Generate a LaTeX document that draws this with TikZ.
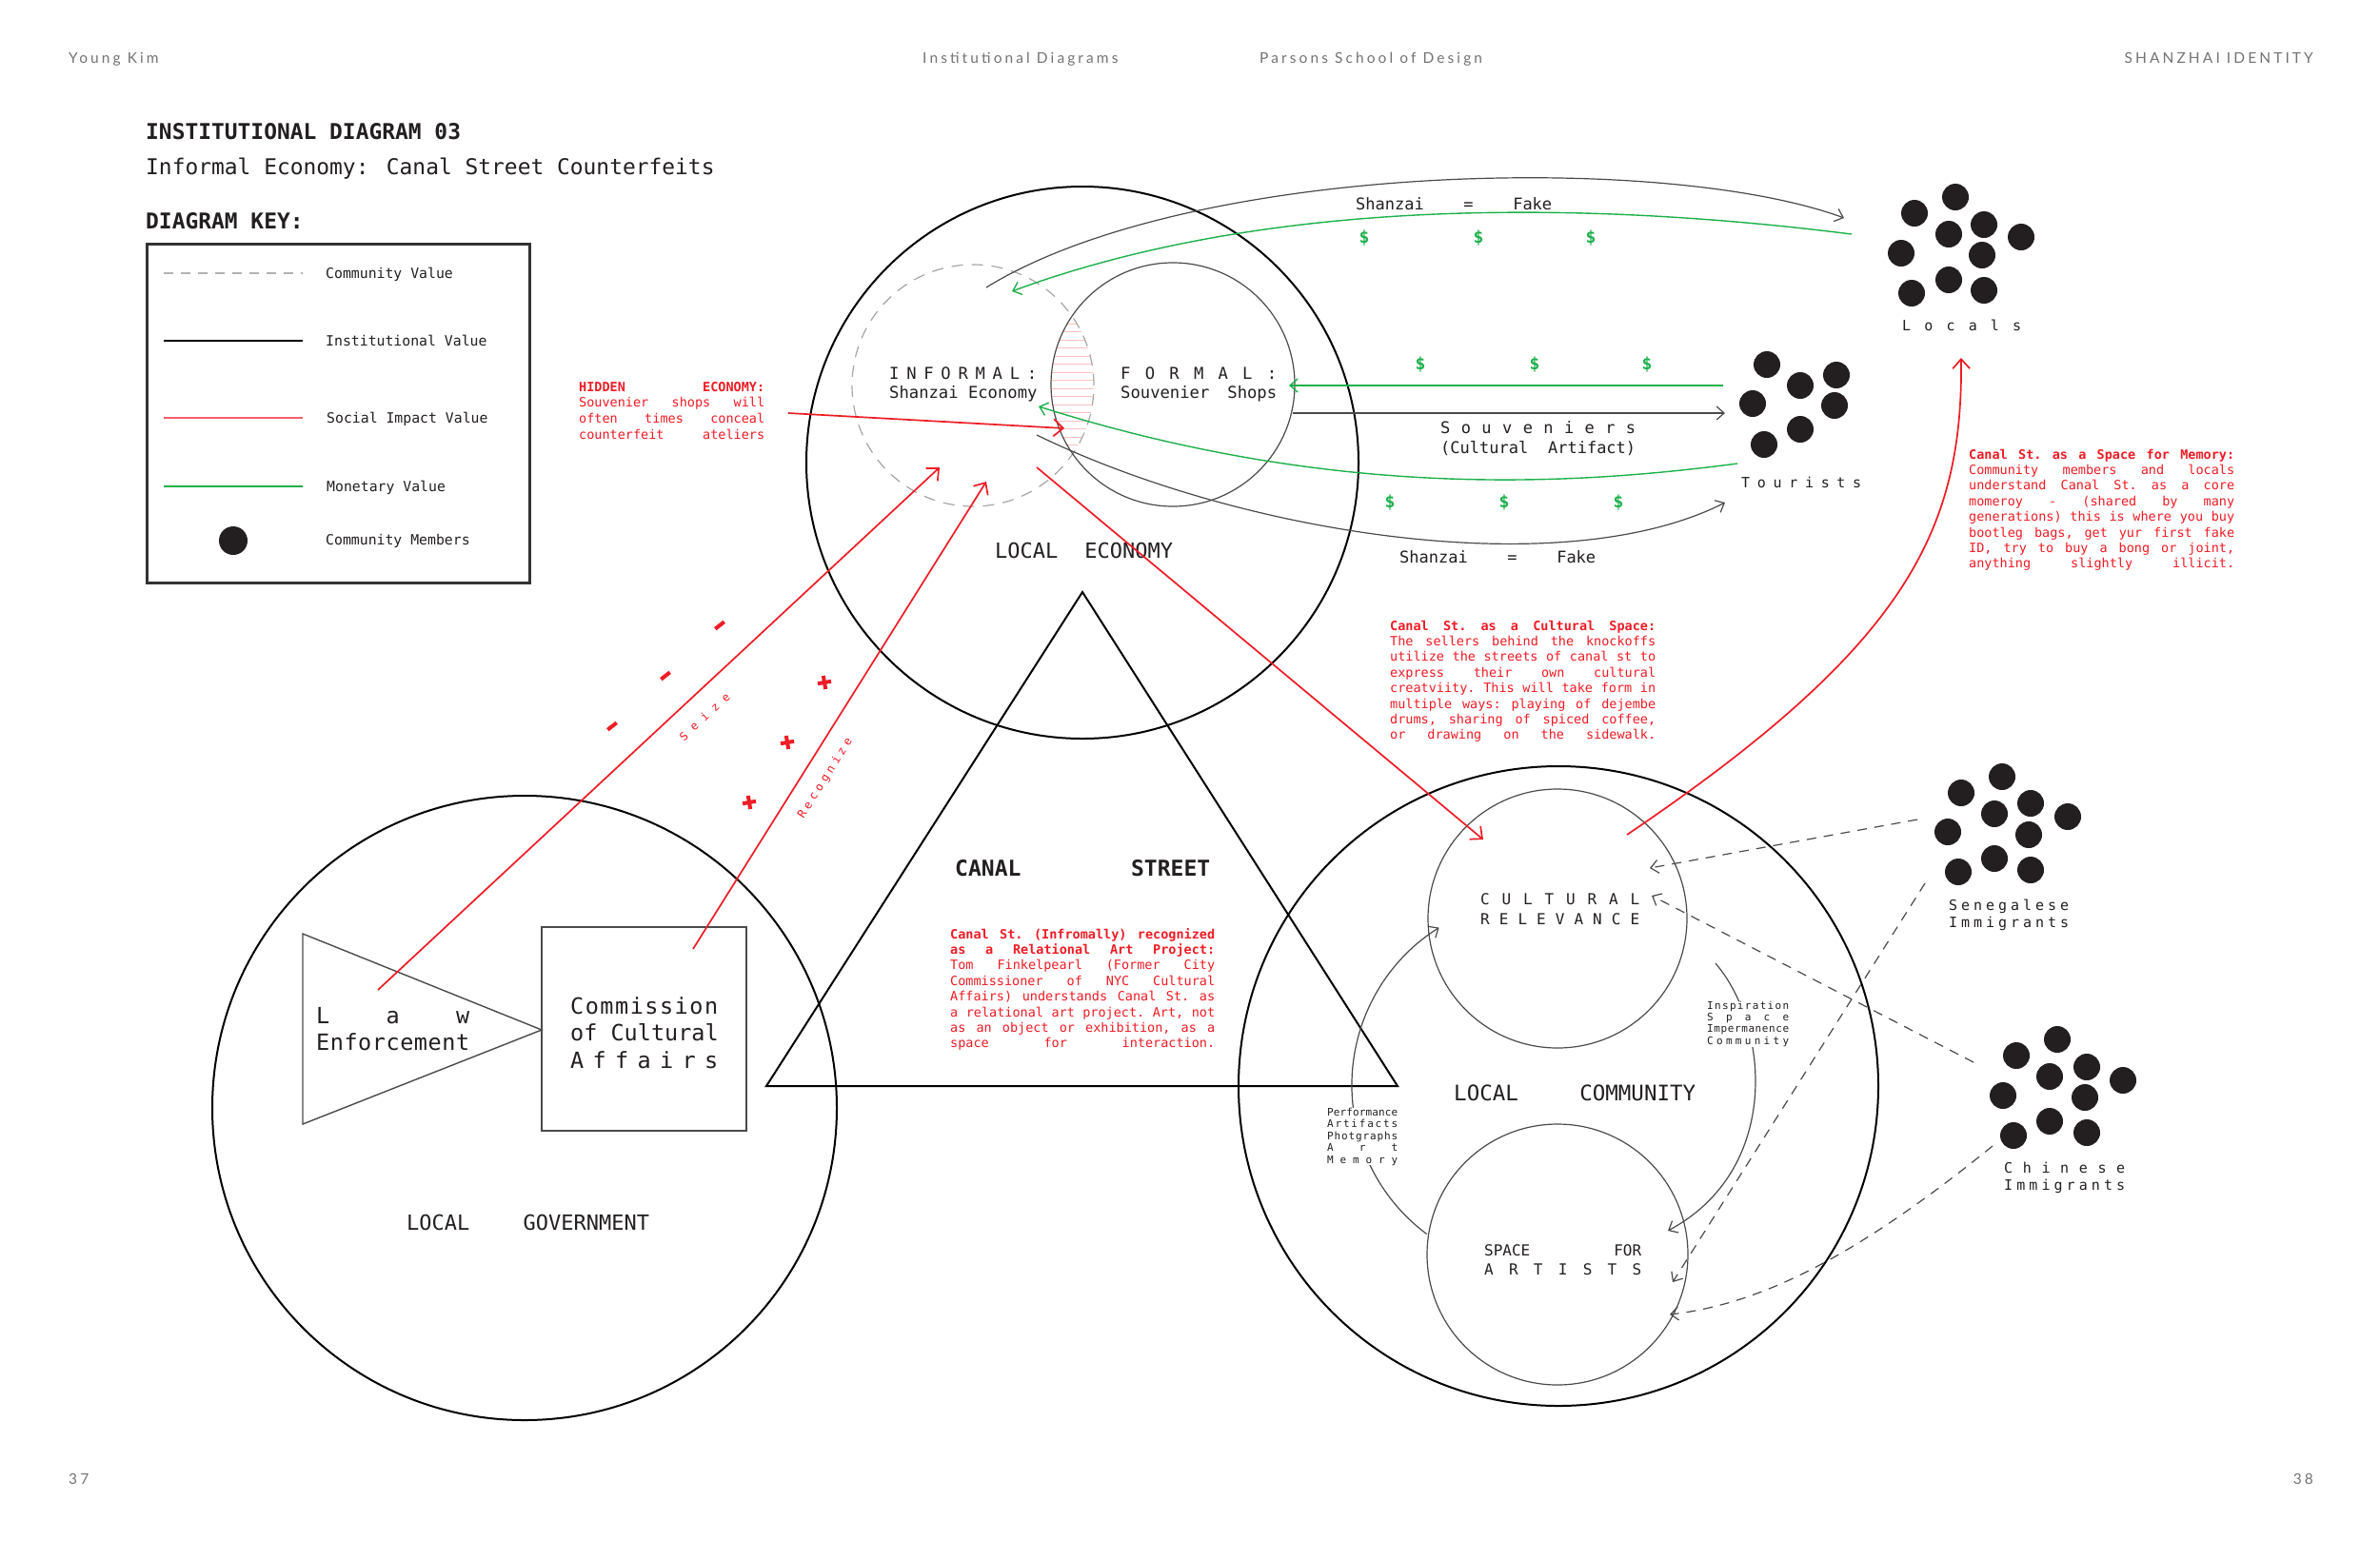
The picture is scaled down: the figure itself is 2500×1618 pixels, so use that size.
\documentclass[tikz,border=0pt]{standalone}
\usepackage{fontspec}
\setmainfont{DejaVu Sans Mono}
\newfontfamily\hdr[LetterSpace=20]{Lato}
\usetikzlibrary{arrows.meta}
\definecolor{rd}{HTML}{EE1C25}
\definecolor{gn}{HTML}{1DB04B}
\definecolor{gr}{HTML}{4A4A4A}
\definecolor{dk}{HTML}{231F20}
\newlength\jw
\newcommand\JL[1]{\hbox to\jw{\frenchspacing\spaceskip=.6em plus 1fil\relax #1}}
\newcommand\JW[2]{\hbox to #1{\frenchspacing\spaceskip=.6em plus 1fil\relax #2}}
\newcommand\PAR[3]{\vtop{\setlength\jw{#1}\baselineskip=#2\relax #3}}
\ExplSyntaxOn
\NewDocumentCommand\SP{mm}{\hbox to #1{\tl_map_inline:nn{#2}{##1\hfil}\unskip}}
\ExplSyntaxOff
\newcommand\fs[1]{\fontsize{#1pt}{#1pt}\selectfont}
\tikzset{
  lab/.style={inner sep=0, anchor=base west, text=dk},
  hd/.style={inner sep=0, anchor=base west, text=black!55, font=\hdr\fontsize{15.5pt}{16pt}\selectfont},
  bigc/.style={circle, draw=black, line width=2pt, inner sep=0},
  thinc/.style={circle, draw=gr, line width=1.2pt, inner sep=0},
  dot/.style={circle, fill=dk, minimum size=28pt, inner sep=0},
  redarr/.style={draw=rd, line width=1.7pt, -{Straight Barb[length=10pt,width=18pt,line width=1.7pt]}},
  grayarr/.style={draw=gr, line width=1.2pt, -{Straight Barb[length=8pt,width=14pt,line width=1.2pt]}},
  greenarr/.style={draw=gn, line width=1.4pt, -{Straight Barb[length=8pt,width=14pt,line width=1.4pt]}},
  dasharr/.style={draw=gr, line width=1.2pt, dash pattern=on 10pt off 8pt, -{Straight Barb[length=8pt,width=14pt,line width=1.2pt]}},
  dollar/.style={inner sep=0, text=gn, font=\fs{18}\bfseries},
  redtxt/.style={inner sep=0, anchor=base west, text=rd, font=\fs{13.5}},
  rmark/.style={draw=rd, line width=4pt},
}
\begin{document}
\begin{tikzpicture}[x=1pt,y=-1pt]
\useasboundingbox (0,0) rectangle (2500,1618);
\fill[white] (0,0) rectangle (2500,1618);

% header
\node[hd] (h1) at (72,66) {Young Kim};
\node[hd] (h2) at (969,66) {Institutional Diagrams};
\node[hd] (h3) at (1323,66) {Parsons School of Design};
\node[hd, anchor=base east] (h4) at (2430,66) {SHANZHAI IDENTITY};
\node[hd] (p1) at (72,1559) {37};
\node[hd, anchor=base east] (p2) at (2430,1559) {38};

% titles
\node[lab, font=\fs{22.9}\bfseries] (title) at (153,146) {INSTITUTIONAL DIAGRAM 03};
\node[lab, font=\fs{22.9}] (sub) at (153,183) {Informal Economy: Canal Street Counterfeits};
\node[lab, font=\fs{22.9}\bfseries] (keyt) at (153,240) {DIAGRAM KEY:};

% key
\node[draw=black!80, line width=2.5pt, minimum width=402pt, minimum height=356pt, anchor=north west, inner sep=0] (key) at (153,255) {};
\coordinate (k1a) at (172,287); \coordinate (k1b) at (318,287);
\coordinate (k2a) at (172,358); \coordinate (k2b) at (318,358);
\coordinate (k3a) at (172,439); \coordinate (k3b) at (318,439);
\coordinate (k4a) at (172,511); \coordinate (k4b) at (318,511);
\draw[black!30, line width=1.2pt, dash pattern=on 10pt off 8pt] (k1a) -- (k1b);
\draw[black, line width=1.3pt] (k2a) -- (k2b);
\draw[rd!70, line width=1.3pt] (k3a) -- (k3b);
\draw[gn, line width=1.3pt] (k4a) -- (k4b);
\node[dot, minimum size=30pt] (kdot) at (245,568) {};
\node[lab, font=\fs{14.8}] (kl1) at (342,292) {Community Value};
\node[lab, font=\fs{14.8}] (kl2) at (342,363) {Institutional Value};
\node[lab, font=\fs{14.8}] (kl3) at (343,444) {Social Impact Value};
\node[lab, font=\fs{14.8}] (kl4) at (343,516) {Monetary Value};
\node[lab, font=\fs{14.8}] (kl5) at (342,572) {Community Members};

% big circles
\node[bigc, minimum size=580pt] (econ) at (1137,486) {};
\node[bigc, minimum size=656pt] (gov) at (551,1164) {};
\node[bigc, minimum size=672pt] (comm) at (1637,1141) {};
\coordinate (tA) at (1137,622); \coordinate (tL) at (805,1141); \coordinate (tR) at (1468,1141);
\draw[line width=2pt, line join=miter] (tA) -- (tL) -- (tR) -- cycle;

% economy inner
\begin{scope}
\clip (1022,405) circle[radius=127pt];
\clip (1232,404) circle[radius=128pt];
\foreach \yy in {272,280.5,...,540} \draw[rd!28, line width=1pt] (1090,\yy) -- (1160,\yy);
\end{scope}
\node[circle, draw=black!35, line width=1.2pt, dash pattern=on 12pt off 9pt, minimum size=254pt, inner sep=0] (informal) at (1022,405) {};
\node[thinc, minimum size=256pt] (formal) at (1232,404) {};
\node[lab, font=\fs{17.2}] (inf1) at (934,398) {\SP{155pt}{INFORMAL:}};
\node[lab, font=\fs{17.2}] (inf2) at (934,418) {\JW{155pt}{Shanzai Economy}};
\node[lab, font=\fs{17.2}] (for1) at (1177,398) {\SP{164pt}{FORMAL:}};
\node[lab, font=\fs{17.2}] (for2) at (1177,418) {\JW{164pt}{Souvenier Shops}};
\node[lab, font=\fs{22}] (leco) at (1045,586) {\JW{187pt}{LOCAL ECONOMY}};

% locals group
\foreach \n/\dx/\dy in {1/-43/17,2/0/0,3/30/29,4/-7/39,5/69/42,6/-57/59,7/28/61,8/-7/87,9/-46/101,10/30/98}
  \node[dot] (loc\n) at (2054+\dx,207+\dy) {};
\node[lab, font=\fs{15}] (loclab) at (1998,347) {\SP{125pt}{Locals}};
% tourists
\node[dot] (tou1) at (1856,383) {};
\node[dot] (tou2) at (1929,394) {};
\node[dot] (tou3) at (1891,405) {};
\node[dot] (tou4) at (1841,424) {};
\node[dot] (tou5) at (1927,426) {};
\node[dot] (tou6) at (1891,451) {};
\node[dot] (tou7) at (1853,467) {};
\node[lab, font=\fs{15}] (toulab) at (1829,512) {\SP{126pt}{Tourists}};
% senegalese
\foreach \n/\dx/\dy in {1/-43/17,2/0/0,3/30/28,4/-8/39,5/69/42,6/-57/58,7/28/61,8/-8/86,9/-46/100,10/30/98}
  \node[dot] (sen\n) at (2103+\dx,816+\dy) {};
\node[lab, font=\fs{15}] (senlab1) at (2047,956) {\SP{126pt}{Senegalese}};
\node[lab, font=\fs{15}] (senlab2) at (2047,974) {\SP{126pt}{Immigrants}};
% chinese
\foreach \n/\dx/\dy in {1/-43/17,2/0/0,3/31/29,4/-8/39,5/69/43,6/-57/59,7/29/61,8/-8/86,9/-46/101,10/31/98}
  \node[dot] (chi\n) at (2161+\dx,1092+\dy) {};
\node[lab, font=\fs{15}] (chilab1) at (2105,1232) {\SP{127pt}{Chinese}};
\node[lab, font=\fs{15}] (chilab2) at (2105,1250) {\SP{127pt}{Immigrants}};

% economy flows
\coordinate (a1s) at (1036,302); \coordinate (a1e) at (1937,229);
\draw[grayarr] (a1s) .. controls (1250,170) and (1750,160) .. (a1e);
\node[lab, font=\fs{17}] (sf1) at (1424,220) {\JW{206pt}{Shanzai = Fake}};
\coordinate (g1s) at (1945,246); \coordinate (g1e) at (1063,306);
\draw[greenarr] (g1s) .. controls (1700,215) and (1350,200) .. (g1e);
\node[dollar] (d1) at (1433,250) {\$};
\node[dollar] (d2) at (1553,250) {\$};
\node[dollar] (d3) at (1671,250) {\$};
\coordinate (g2s) at (1810,405); \coordinate (g2e) at (1354,405);
\draw[greenarr] (g2s) -- (g2e);
\node[dollar] (d4) at (1492,383) {\$};
\node[dollar] (d5) at (1612,383) {\$};
\node[dollar] (d6) at (1730,383) {\$};
\coordinate (s1s) at (1358,434); \coordinate (s1e) at (1812,434);
\draw[grayarr] (s1s) -- (s1e);
\node[lab, font=\fs{17}] (souv1) at (1513,455) {\SP{205pt}{Souveniers}};
\node[lab, font=\fs{17}] (souv2) at (1513,476) {\JW{205pt}{(Cultural Artifact)}};
\coordinate (g3s) at (1825,487); \coordinate (g3e) at (1091,427);
\draw[greenarr] (g3s) .. controls (1650,510) and (1400,525) .. (g3e);
\node[dollar] (d7) at (1460,528) {\$};
\node[dollar] (d8) at (1580,528) {\$};
\node[dollar] (d9) at (1700,528) {\$};
\coordinate (a2s) at (1089,457); \coordinate (a2e) at (1812,528);
\draw[grayarr] (a2s) .. controls (1300,560) and (1640,615) .. (a2e);
\node[lab, font=\fs{17}] (sf2) at (1470,591) {\JW{206pt}{Shanzai = Fake}};

% hidden economy
\node[redtxt] (hid) at (608,411) {\PAR{195pt}{16.7pt}{\JL{\bfseries HIDDEN ECONOMY:}\JL{Souvenier shops will}\JL{often times conceal}\JL{counterfeit ateliers}}};
\coordinate (hidS) at (828,434); \coordinate (hidE) at (1118,450);
\draw[redarr] (hidS) -- (hidE);

% government
\coordinate (lw1) at (318,981); \coordinate (lw2) at (318,1181); \coordinate (lw3) at (569,1082);
\draw[gr, line width=1.4pt] (lw1) -- (lw3) -- (lw2) -- cycle;
\node[draw=gr, line width=1.4pt, minimum width=215pt, minimum height=214pt, inner sep=0] (cca) at (676.5,1081) {};
\node[lab, font=\fs{23.5}] (law1) at (332,1075) {\SP{161pt}{Law}};
\node[lab, font=\fs{23.5}] (law2) at (332,1103) {\SP{161pt}{Enforcement}};
\node[lab, font=\fs{23.5}] (cca1) at (599,1065) {\SP{155pt}{Commission}};
\node[lab, font=\fs{23.5}] (cca2) at (599,1093) {\JW{155pt}{of Cultural}};
\node[lab, font=\fs{23.5}] (cca3) at (599,1122) {\SP{155pt}{Affairs}};
\node[lab, font=\fs{22}] (lgov) at (427,1292) {\JW{255pt}{LOCAL GOVERNMENT}};

% seize / recognize
\coordinate (lawP) at (397,1040); \coordinate (seizeE) at (987,491);
\draw[redarr] (lawP) -- (seizeE);
\coordinate (comP) at (728,997); \coordinate (recE) at (1036,506);
\draw[redarr] (comP) -- (recE);
\node[inner sep=0, text=rd, font=\fs{12}, rotate=43] (seize) at (740,753) {\SP{67pt}{Seize}};
\node[inner sep=0, text=rd, font=\fs{12}, rotate=58] (recog) at (867,818) {\SP{97pt}{Recognize}};
\foreach \cx/\cy in {756/657,699/710,643/763} \draw[rmark] (\cx-4.7,\cy+3.7) -- (\cx+4.7,\cy-3.7);
\foreach \cx/\cy in {866/717,827/780,787/843} {\draw[rmark] (\cx-7,\cy+1.2) -- (\cx+7,\cy-1.2); \draw[rmark] (\cx-1.2,\cy-7) -- (\cx+1.2,\cy+7);}

% canal street
\node[lab, font=\fs{23}\bfseries] (canal) at (1003,920) {\JW{268pt}{CANAL STREET}};
\node[redtxt] (relart) at (998,986) {\PAR{278pt}{16.4pt}{\JL{\bfseries Canal St. (Infromally) recognized}\JL{\bfseries as a Relational Art Project:}\JL{Tom Finkelpearl (Former City}\JL{Commissioner of NYC Cultural}\JL{Affairs) understands Canal St. as}\JL{a relational art project. Art, not}\JL{as an object or exhibition, as a}\JL{space for interaction.}}};

% cultural space text
\node[redtxt] (culsp) at (1460,662) {\PAR{279pt}{16.4pt}{\JL{\bfseries Canal St. as a Cultural Space:}\JL{The sellers behind the knockoffs}\JL{utilize the streets of canal st to}\JL{express their own cultural}\JL{creatviity. This will take form in}\JL{multiple ways: playing of dejembe}\JL{drums, sharing of spiced coffee,}\JL{or drawing on the sidewalk.}}};

% memory text
\node[redtxt] (mem) at (2068,482) {\PAR{279pt}{16.4pt}{\JL{\bfseries Canal St. as a Space for Memory:}\JL{Community members and locals}\JL{understand Canal St. as a core}\JL{momeroy - (shared by many}\JL{generations) this is where you buy}\JL{bootleg bags, get yur first fake}\JL{ID, try to buy a bong or joint,}\JL{anything slightly illicit.}}};

% community
\node[thinc, minimum size=272pt] (cult) at (1636,965) {};
\node[thinc, minimum size=274pt] (art) at (1636,1318) {};
\node[lab, font=\fs{16}] (cul1) at (1555,950) {\SP{167pt}{CULTURAL}};
\node[lab, font=\fs{16}] (cul2) at (1555,971) {\SP{167pt}{RELEVANCE}};
\node[lab, font=\fs{16}] (art1) at (1559,1319) {\JW{165pt}{SPACE FOR}};
\node[lab, font=\fs{16}] (art2) at (1559,1339) {\SP{165pt}{ARTISTS}};
\node[lab, font=\fs{22.5}] (lcom) at (1527,1156) {\JW{254pt}{LOCAL COMMUNITY}};

\coordinate (ec1) at (1089,491); \coordinate (ec2) at (1558,882);
\draw[redarr] (ec1) -- (ec2);
\coordinate (cm1) at (1709,877); \coordinate (cm2) at (2060,376);
\draw[redarr] (cm1) .. controls (2000,680) and (2062,560) .. (cm2);

\coordinate (la1) at (1498.7,1296.5);
\draw[grayarr] (la1) arc[start angle=126.6, end angle=238, radius=195];
\node[lab, font=\fs{11}, fill=white] (perf) at (1394,1172) {\vtop{\baselineskip=12.5pt \SP{74pt}{Performance}\SP{74pt}{Artifacts}\SP{74pt}{Photgraphs}\SP{74pt}{Art}\SP{74pt}{Memory}}};
\coordinate (ra1) at (1802,1012); \coordinate (ra2) at (1752,1293);
\draw[grayarr] (ra1) .. controls (1860,1080) and (1870,1230) .. (ra2);
\node[lab, font=\fs{11}, fill=white] (insp) at (1793,1060) {\vtop{\baselineskip=12.4pt \SP{86pt}{Inspiration}\SP{86pt}{Space}\SP{86pt}{Impermanence}\SP{86pt}{Community}}};

% community value dashed
\coordinate (q1s) at (2014,861); \coordinate (q1e) at (1733,912);
\draw[dasharr] (q1s) -- (q1e);
\coordinate (q2s) at (2022,928); \coordinate (q2e) at (1757,1347);
\draw[dasharr] (q2s) -- (q2e);
\coordinate (q3s) at (2073,1116); \coordinate (q3e) at (1735,941);
\draw[dasharr] (q3s) -- (q3e);
\coordinate (q4s) at (2093,1204); \coordinate (q4e) at (1754,1381);
\draw[dasharr] (q4s) .. controls (1950,1320) and (1850,1370) .. (q4e);
\end{tikzpicture}
\end{document}
